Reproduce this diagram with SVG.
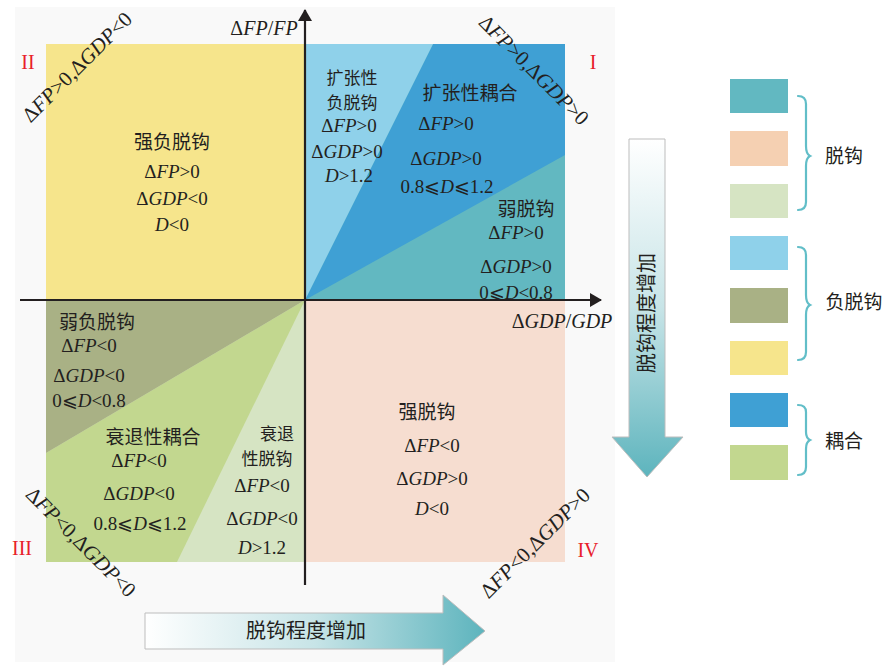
<svg xmlns="http://www.w3.org/2000/svg" width="889" height="666" viewBox="0 0 889 666">
<defs>
<style>
.zh{font-family:"Noto Sans CJK SC","Noto Sans",sans-serif;font-size:19px;fill:#231f20;text-anchor:middle}
.zs{font-size:17px}
.m{font-family:"Liberation Serif","DejaVu Serif",serif;font-size:19px;fill:#231f20;text-anchor:middle}
.d{font-family:"Liberation Serif","DejaVu Serif",serif;font-size:21px;fill:#231f20;text-anchor:middle}
.i{font-style:italic}
.rn{font-family:"Liberation Serif",serif;font-size:20px;fill:#e8202a;text-anchor:middle}
.ax{stroke:#231f20;stroke-width:2.2;fill:none}
.brace{stroke:#62bec8;stroke-width:2.2;fill:none;stroke-linecap:round}
</style>
<linearGradient id="gH" x1="0" y1="0" x2="1" y2="0">
<stop offset="0" stop-color="#ffffff"/><stop offset="0.5" stop-color="#c7e4e7"/><stop offset="1" stop-color="#5db4bd"/>
</linearGradient>
<linearGradient id="gV" x1="0" y1="0" x2="0" y2="1">
<stop offset="0" stop-color="#ffffff"/><stop offset="0.5" stop-color="#c7e4e7"/><stop offset="1" stop-color="#5db4bd"/>
</linearGradient>
<marker id="ah" viewBox="0 0 12 14" refX="11" refY="7" markerWidth="12" markerHeight="14" markerUnits="userSpaceOnUse" orient="auto">
<path d="M0,0 L12,7 L0,14 Z" fill="#231f20"/>
</marker>
</defs>
<rect x="0" y="0" width="889" height="666" fill="#ffffff"/>
<rect x="15" y="7" width="600" height="655" fill="#f9f9f9"/>

<g id="quadrant-II">
<rect x="46" y="44" width="259" height="256" fill="#f6e58c"/>
<text class="zh" x="172" y="149">强负脱钩</text>
<text class="m" x="172" y="178">Δ<tspan class="i">FP</tspan>&gt;0</text>
<text class="m" x="172" y="205">Δ<tspan class="i">GDP</tspan>&lt;0</text>
<text class="m" x="172" y="231"><tspan class="i">D</tspan>&lt;0</text>
</g>

<g id="quadrant-I">
<rect x="305" y="44" width="260" height="256" fill="#62b8c1"/>
<polygon points="305,300 433,44 565,44 565,155" fill="#3fa0d4"/>
<polygon points="305,300 305,44 433,44" fill="#8fd1ea"/>
<text class="zh zs" x="352" y="84">扩张性</text>
<text class="zh zs" x="352" y="109">负脱钩</text>
<text class="m" x="349" y="132">Δ<tspan class="i">FP</tspan>&gt;0</text>
<text class="m" x="347" y="158">Δ<tspan class="i">GDP</tspan>&gt;0</text>
<text class="m" x="349" y="182"><tspan class="i">D</tspan>&gt;1.2</text>
<text class="zh" x="470" y="100">扩张性耦合</text>
<text class="m" x="446" y="130">Δ<tspan class="i">FP</tspan>&gt;0</text>
<text class="m" x="446" y="165">Δ<tspan class="i">GDP</tspan>&gt;0</text>
<text class="m" x="447" y="193">0.8⩽<tspan class="i">D</tspan>⩽1.2</text>
<text class="zh" x="526" y="216">弱脱钩</text>
<text class="m" x="516" y="239">Δ<tspan class="i">FP</tspan>&gt;0</text>
<text class="m" x="516" y="273">Δ<tspan class="i">GDP</tspan>&gt;0</text>
<text class="m" x="516" y="299">0⩽<tspan class="i">D</tspan>&lt;0.8</text>
</g>

<g id="quadrant-III">
<rect x="46" y="300" width="259" height="262" fill="#d6e4c3"/>
<polygon points="305,300 46,453 46,562 177,562" fill="#c2d78f"/>
<polygon points="305,300 46,300 46,453" fill="#a9b185"/>
<text class="zh" x="97" y="329">弱负脱钩</text>
<text class="m" x="89" y="352">Δ<tspan class="i">FP</tspan>&lt;0</text>
<text class="m" x="89" y="382">Δ<tspan class="i">GDP</tspan>&lt;0</text>
<text class="m" x="89" y="407">0⩽<tspan class="i">D</tspan>&lt;0.8</text>
<text class="zh" x="153" y="444">衰退性耦合</text>
<text class="m" x="139" y="467">Δ<tspan class="i">FP</tspan>&lt;0</text>
<text class="m" x="139" y="500">Δ<tspan class="i">GDP</tspan>&lt;0</text>
<text class="m" x="140" y="530">0.8⩽<tspan class="i">D</tspan>⩽1.2</text>
<text class="zh zs" x="277" y="440">衰退</text>
<text class="zh zs" x="267" y="465">性脱钩</text>
<text class="m" x="262" y="492">Δ<tspan class="i">FP</tspan>&lt;0</text>
<text class="m" x="262" y="525">Δ<tspan class="i">GDP</tspan>&lt;0</text>
<text class="m" x="262" y="554"><tspan class="i">D</tspan>&gt;1.2</text>
</g>

<g id="quadrant-IV">
<rect x="305" y="300" width="260" height="262" fill="#f6ddd0"/>
<text class="zh" x="427" y="419">强脱钩</text>
<text class="m" x="432" y="452">Δ<tspan class="i">FP</tspan>&lt;0</text>
<text class="m" x="432" y="485">Δ<tspan class="i">GDP</tspan>&gt;0</text>
<text class="m" x="432" y="515"><tspan class="i">D</tspan>&lt;0</text>
</g>

<g id="axes">
<line class="ax" x1="305" y1="585" x2="305" y2="10" marker-end="url(#ah)"/>
<line class="ax" x1="20" y1="300" x2="601" y2="300" marker-end="url(#ah)"/>
<text class="m" x="264" y="35" style="font-size:20px">Δ<tspan class="i">FP</tspan>/<tspan class="i">FP</tspan></text>
<text class="m" x="562" y="328" style="font-size:20px">Δ<tspan class="i">GDP</tspan>/<tspan class="i">GDP</tspan></text>
</g>

<g id="diagonal-labels">
<text class="d" transform="translate(82,72) rotate(-45)">Δ<tspan class="i">FP</tspan>&gt;0,Δ<tspan class="i">GDP</tspan>&lt;0</text>
<text class="d" transform="translate(529,75) rotate(45)">Δ<tspan class="i">FP</tspan>&gt;0,Δ<tspan class="i">GDP</tspan>&gt;0</text>
<text class="d" transform="translate(76,547) rotate(45)">Δ<tspan class="i">FP</tspan>&lt;0,Δ<tspan class="i">GDP</tspan>&lt;0</text>
<text class="d" transform="translate(540,548) rotate(-45)">Δ<tspan class="i">FP</tspan>&lt;0,Δ<tspan class="i">GDP</tspan>&gt;0</text>
</g>

<g id="quadrant-numbers">
<text class="rn" x="28" y="69">II</text>
<text class="rn" x="593" y="69">I</text>
<text class="rn" x="22" y="555">III</text>
<text class="rn" x="588" y="557">IV</text>
</g>

<g id="arrow-vertical">
<path d="M629,139 H665 V437 H683 L647,477 L612,437 H629 Z" fill="url(#gV)" stroke="#bdbdbd" stroke-width="1"/>
<text class="zh" transform="translate(654,313) rotate(-90)" style="font-size:20px">脱钩程度增加</text>
</g>

<g id="arrow-horizontal">
<path d="M145,613 H443 V595 L485,631 L443,665 V649 H145 Z" fill="url(#gH)" stroke="#bdbdbd" stroke-width="1"/>
<text class="zh" x="306" y="638" style="font-size:20px">脱钩程度增加</text>
</g>

<g id="legend">
<rect x="730" y="79" width="58" height="34" fill="#62b8c1"/>
<rect x="730" y="131" width="58" height="35" fill="#f5d0b2"/>
<rect x="730" y="184" width="58" height="34" fill="#d6e4c3"/>
<rect x="730" y="236" width="58" height="34" fill="#8fd1ea"/>
<rect x="730" y="288" width="58" height="35" fill="#a9b185"/>
<rect x="730" y="341" width="58" height="34" fill="#f6e58c"/>
<rect x="730" y="393" width="58" height="34" fill="#3fa0d4"/>
<rect x="730" y="445" width="58" height="35" fill="#c2d78f"/>
<path class="brace" d="M798,96 Q806,96 806,104 V146 Q806,154 810,156 Q806,158 806,166 V202 Q806,210 798,210"/>
<path class="brace" d="M798,247 Q806,247 806,255 V295 Q806,303 810,305 Q806,307 806,315 V352 Q806,360 798,360"/>
<path class="brace" d="M798,405 Q806,405 806,412 V432 Q806,438 810,440 Q806,442 806,449 V467 Q806,475 798,475"/>
<text class="zh" x="844" y="163">脱钩</text>
<text class="zh" x="854" y="309">负脱钩</text>
<text class="zh" x="844" y="448">耦合</text>
</g>
</svg>
